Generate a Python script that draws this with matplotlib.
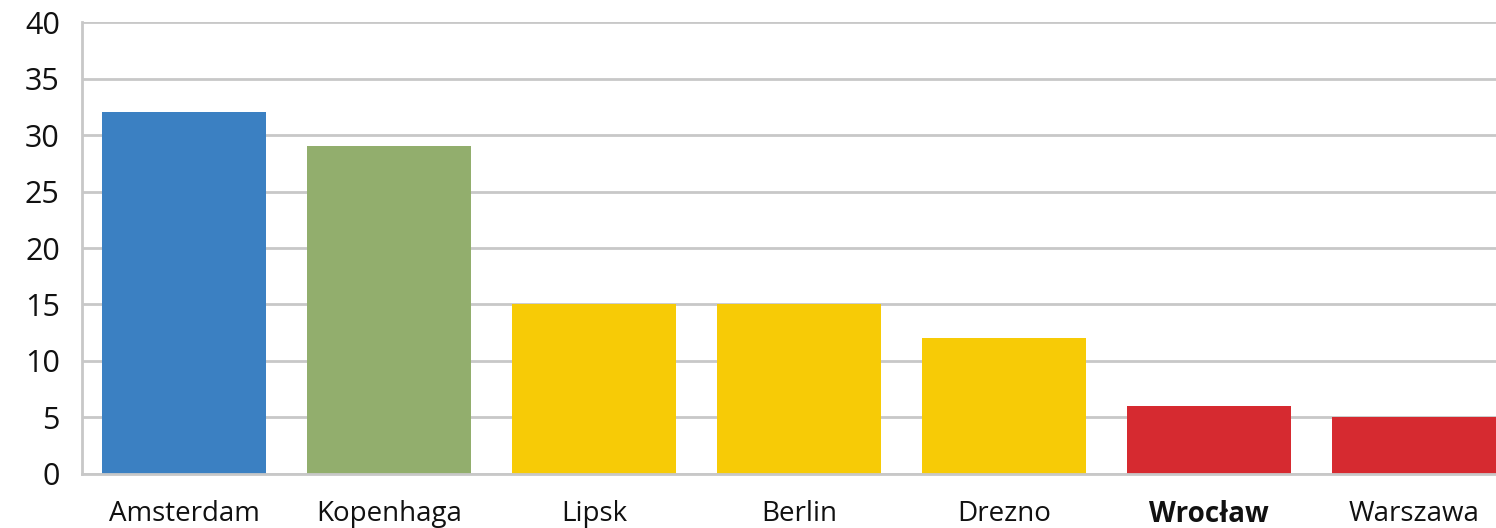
import matplotlib.pyplot as plt

# data
cities = ["Amsterdam", "Kopenhaga", "Lipsk", "Berlin", "Drezno", "Wrocław", "Warszawa"]
values = [32, 29, 15, 15, 12, 6, 5]
colors = ["#3b80c2", "#92ae6d", "#f7cb06", "#f7cb06", "#f7cb06", "#d62a30", "#d62a30"]
yticks = [0, 5, 10, 15, 20, 25, 30, 35, 40]

plt.rcParams['font.family'] = ['Open Sans', 'DejaVu Sans']

fig = plt.figure(figsize=(14.96, 5.28), dpi=100)
ax = fig.add_axes([0.0548, 0.1023, 0.9452, 0.856])

x = range(len(cities))
ax.bar(x, values, width=0.8, color=colors, zorder=3)

ax.set_ylim(0, 40)
ax.set_xlim(-0.5, 6.4)
ax.set_yticks(yticks)
ax.set_xticks(list(x))
ax.set_xticklabels(cities)

ax.grid(axis='y', color='#c8c8c8', linewidth=2, zorder=0)
for s in ['top', 'right']:
    ax.spines[s].set_visible(False)
ax.spines['left'].set_color('#c8c8c8')
ax.spines['left'].set_linewidth(2)
ax.spines['bottom'].set_color('#c8c8c8')
ax.spines['bottom'].set_linewidth(2)
ax.spines['bottom'].set_zorder(4)

ax.tick_params(axis='both', length=0, labelsize=20, colors='#111111')
ax.tick_params(axis='y', pad=16, labelsize=22)
ax.tick_params(axis='x', pad=19)

# Wrocław is highlighted in bold
ax.get_xticklabels()[5].set_fontweight('bold')

fig.savefig("out.png", dpi=100)
